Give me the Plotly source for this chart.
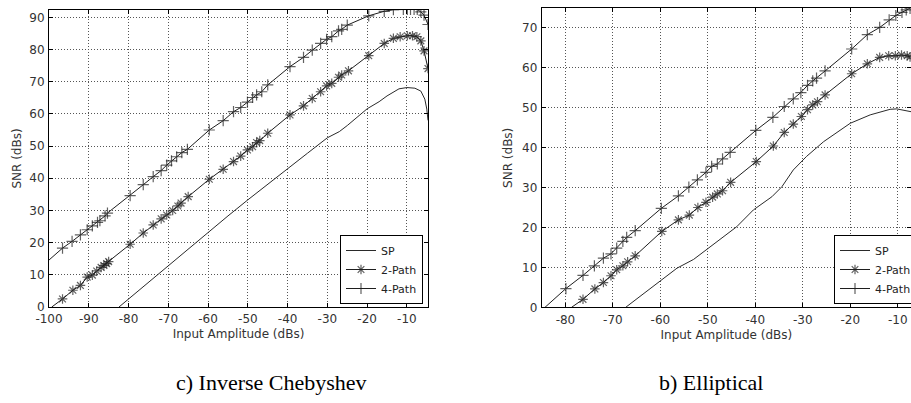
import plotly.graph_objects as go

# ---------------- data: c) Inverse Chebyshev ----------------
ic_sp_x = [-82.4, -80, -75, -70, -65, -60, -55, -50, -45, -40, -35, -30, -27, -25, -20, -17, -15, -12, -10, -8, -6.5, -5.5, -5.0, -4.7]
ic_sp_y = [0, 2.5, 7.6, 12.8, 18.0, 23.2, 28.3, 33.3, 38.2, 42.9, 47.8, 52.6, 54.5, 56.4, 61.6, 63.8, 65.6, 67.8, 68.2, 68.0, 67.1, 64.6, 61.5, 58.0]

ic_2p_x = [-99.3, -96.6, -94.0, -92.1, -90.4, -89.1, -88.0, -86.9, -86.2, -85.5, -85.0, -79.6, -76.3, -73.8, -71.8,
           -70.4, -68.9, -67.6, -66.8, -65.0, -59.7, -56.2, -53.6, -51.8, -50.1, -48.8, -47.8, -47.0, -45.0, -39.4,
           -36.0, -33.8, -31.7, -30.2, -28.9, -27.2, -26.4, -24.7, -19.6, -15.7, -13.4, -11.7, -9.9, -8.6, -7.5,
           -6.5, -5.7, -4.7]
ic_2p_y = [0, 2.5, 5.2, 6.7, 9.3, 9.9, 11.2, 12.3, 12.9, 13.5, 14.1, 19.5, 23.0, 25.5, 27.4,
           28.6, 30.0, 31.4, 32.3, 34.3, 39.7, 42.8, 45.2, 46.9, 48.8, 49.8, 51.1, 51.7, 54.0, 59.7,
           62.5, 64.8, 66.9, 68.7, 69.5, 71.4, 72.1, 73.4, 78.1, 81.9, 83.5, 84.0, 84.3, 84.3, 84.0,
           82.7, 79.6, 74.1]

ic_4p_x = [-100.0, -96.6, -94.2, -92.1, -90.4, -89.1, -87.8, -87.2, -85.9, -85.3, -79.6, -76.3, -73.8, -71.8, -70.4,
           -69.2, -67.9, -66.6, -65.2, -59.7, -56.2, -53.6, -51.8, -50.1, -48.8, -47.8, -46.5, -45.0, -39.4,
           -36.0, -33.8, -31.7, -30.2, -28.9, -27.2, -26.4, -25.0, -19.6, -15.7, -13.4, -10.9, -9.9, -9.1,
           -8.2, -7.4, -6.5, -5.7, -4.7]
ic_4p_y = [14.6, 18.3, 20.4, 22.4, 24.0, 25.2, 26.3, 26.8, 28.3, 29.2, 34.6, 38.0, 40.5, 42.4, 44.1,
           45.4, 46.7, 48.0, 49.0, 55.0, 57.9, 60.7, 62.0, 63.7, 65.1, 65.9, 66.9, 69.0, 74.7,
           77.6, 79.8, 81.9, 83.2, 84.0, 85.8, 86.3, 87.6, 90.5, 91.9, 92.4, 92.5, 92.5, 92.5,
           92.5, 92.5, 91.7, 90.7, 87.8]

# ---------------- data: b) Elliptical ----------------
el_sp_x = [-67.3, -60.1, -56.5, -53.0, -49.9, -46.7, -43.9, -40.4, -36.5, -34.4, -32.0, -29.2, -25.6, -20.0, -15.8, -11.6, -10.2, -7.2]
el_sp_y = [0, 6.4, 9.8, 12.0, 14.8, 17.7, 20.2, 24.4, 27.7, 30.2, 34.4, 37.8, 41.5, 46.1, 48.2, 49.6, 49.7, 49.0]

el_2p_x = [-78.7, -76.3, -73.8, -72.0, -70.4, -69.2, -67.9, -66.9, -65.3, -59.7, -56.2, -53.9, -52.1, -50.4, -49.0,
           -48.0, -46.9, -45.2, -39.8, -36.2, -33.9, -32.0, -30.3, -29.0, -27.9, -26.9, -25.3, -19.7, -16.4,
           -13.8, -11.9, -10.5, -9.2, -8.0, -7.4]
el_2p_y = [0, 2.0, 4.6, 6.2, 7.9, 9.4, 10.4, 11.4, 12.9, 19.0, 21.9, 23.1, 25.0, 26.3, 27.6,
           28.4, 29.2, 31.3, 36.5, 40.4, 43.8, 45.9, 47.8, 49.5, 50.7, 51.5, 53.2, 58.5, 61.0,
           62.6, 63.0, 63.0, 63.2, 63.0, 62.7]

el_4p_x = [-84.3, -79.9, -76.3, -73.9, -72.0, -70.4, -69.2, -67.9, -67.1, -65.3, -59.8, -56.2, -54.0, -52.2, -50.4,
           -49.2, -48.0, -46.9, -45.3, -39.9, -36.3, -33.9, -32.0, -30.4, -29.0, -27.9, -27.1, -25.3, -19.7,
           -16.4, -13.8, -11.8, -10.4, -9.1, -8.2, -7.4]
el_4p_y = [0, 4.7, 8.0, 10.4, 12.3, 13.4, 14.8, 16.5, 17.5, 19.2, 24.8, 27.9, 30.1, 31.9, 33.8,
           35.3, 35.9, 37.2, 38.8, 44.3, 47.6, 50.3, 52.2, 53.8, 55.6, 56.7, 57.4, 59.2, 64.7,
           68.3, 70.1, 72.0, 73.1, 73.9, 74.5, 74.9]

ic_xticks = list(range(-100, 0, 10))
ic_yticks = list(range(0, 100, 10))
el_xticks = list(range(-80, 0, 10))
el_yticks = list(range(0, 80, 10))

W, H = 911, 403
LINE = '#1e1e1e'


def px(p):
    return p / W


def py(p):
    return 1 - p / H


def labels(vals):
    return [str(v) for v in vals]  # plain hyphen-minus, as in the original


fig = go.Figure()


def add(x, y, name, symbol, xa, ya, legend):
    if symbol is None:
        fig.add_trace(go.Scatter(x=x, y=y, name=name, mode='lines', xaxis=xa, yaxis=ya, legend=legend,
                                 line=dict(color='#2a2a2a', width=1)))
    else:
        sizes = [0] + [8] * (len(x) - 1)
        fig.add_trace(go.Scatter(x=x, y=y, name=name, mode='lines+markers', xaxis=xa, yaxis=ya, legend=legend,
                                 line=dict(color=LINE, width=1),
                                 marker=dict(symbol=symbol, size=sizes, color=LINE,
                                             line=dict(width=1.2, color=LINE))))


add(ic_sp_x, ic_sp_y, 'SP', None, 'x', 'y', 'legend')
add(ic_2p_x, ic_2p_y, '2-Path', 'asterisk-open', 'x', 'y', 'legend')
add(ic_4p_x, ic_4p_y, '4-Path', 'cross-thin-open', 'x', 'y', 'legend')
add(el_sp_x, el_sp_y, 'SP', None, 'x2', 'y2', 'legend2')
add(el_2p_x, el_2p_y, '2-Path', 'asterisk-open', 'x2', 'y2', 'legend2')
add(el_4p_x, el_4p_y, '4-Path', 'cross-thin-open', 'x2', 'y2', 'legend2')

tickfont = dict(family='DejaVu Sans', size=12, color='#333333')
titlefont = dict(family='DejaVu Sans', size=12, color='#333333')
common = dict(showline=True, linecolor='black', linewidth=1, mirror='ticks', ticks='inside', ticklen=4,
              tickcolor='black', showgrid=True, gridcolor='#555555', griddash='1px,2px', gridwidth=1,
              zeroline=False, tickfont=tickfont, ticklabelstandoff=1)

legfont = dict(family='DejaVu Sans', size=11, color='#222')

fig.update_layout(
    width=W, height=H,
    margin=dict(l=0, r=0, t=0, b=0, autoexpand=False),
    paper_bgcolor='white', plot_bgcolor='white',
    showlegend=True,
    xaxis=dict(domain=[px(49), px(428)], range=[-100, -4.7], tickvals=ic_xticks, ticktext=labels(ic_xticks),
               anchor='y', title=dict(text='Input Amplitude (dBs)', font=titlefont, standoff=4), **common),
    yaxis=dict(domain=[py(307), py(10)], range=[0, 92.3], tickvals=ic_yticks, ticktext=labels(ic_yticks),
               anchor='x', title=dict(text='SNR (dBs)', font=titlefont, standoff=5), **common),
    xaxis2=dict(domain=[px(541.7), 1.0], range=[-85, -7.2], tickvals=el_xticks, ticktext=labels(el_xticks),
                anchor='y2', title=dict(text='Input Amplitude (dBs)', font=titlefont, standoff=4), **common),
    yaxis2=dict(domain=[py(307.3), py(8.3)], range=[0, 74.9], tickvals=el_yticks, ticktext=labels(el_yticks),
                anchor='x2', title=dict(text='SNR (dBs)', font=titlefont, standoff=6), **common),
    legend=dict(x=px(423), xanchor='right', y=py(304), yanchor='bottom', bgcolor='white',
                bordercolor='black', borderwidth=1, font=legfont, itemwidth=30, tracegroupgap=0),
    legend2=dict(x=px(834), xanchor='left', y=py(304), yanchor='bottom', bgcolor='white',
                 bordercolor='black', borderwidth=1, font=legfont, itemwidth=30, tracegroupgap=0),
    annotations=[
        dict(text='c) Inverse Chebyshev', x=px(174), y=py(382), xref='paper', yref='paper',
             xanchor='left', yanchor='middle', showarrow=False,
             font=dict(family='Liberation Serif', size=22, color='black')),
        dict(text='b) Elliptical', x=px(657), y=py(382), xref='paper', yref='paper',
             xanchor='left', yanchor='middle', showarrow=False,
             font=dict(family='Liberation Serif', size=22, color='black')),
    ],
)

fig.write_html('out.html')
